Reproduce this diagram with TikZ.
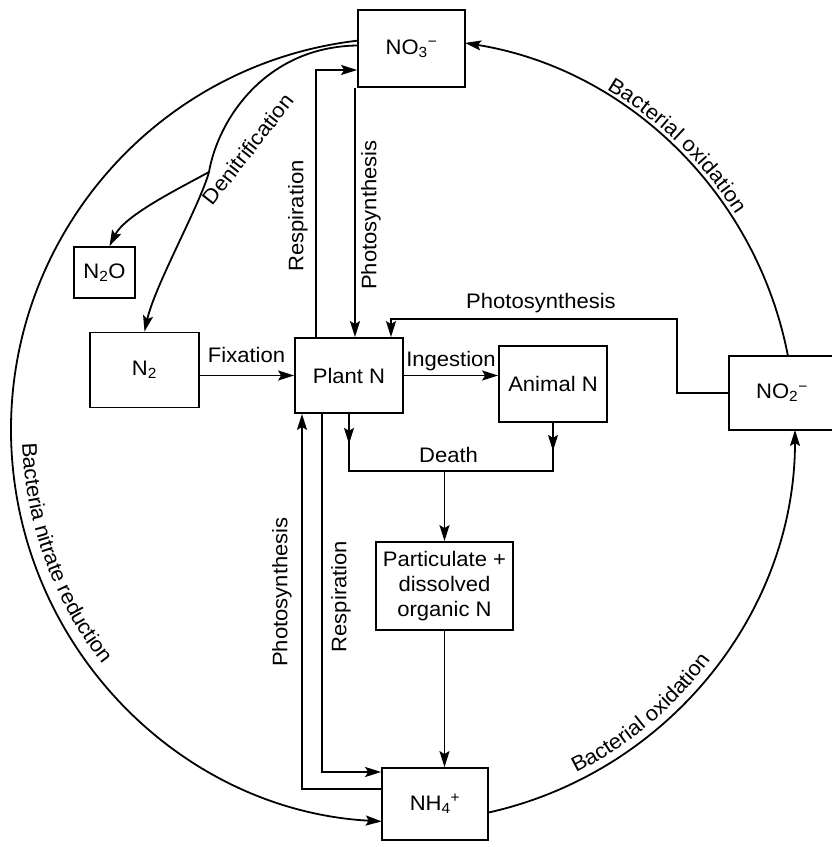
\documentclass[tikz,border=0pt]{standalone}
\usepackage{fontspec}
\setmainfont{Liberation Sans}[FakeStretch=1.05]
\usepackage{tikz}
\usetikzlibrary{arrows.meta, positioning, calc, decorations.text}
\newcommand{\lblfont}{\fontsize{21}{25}\selectfont}
\tikzset{
  lbl/.style={font=\lblfont, inner sep=1pt},
  pool/.style={draw, line width=1.8pt, font=\lblfont, align=center, inner sep=2pt},
  conn/.style={line width=1.8pt},
  flow/.style={conn, -{Stealth[length=16pt, width=10pt, inset=3pt]}},
  arclbl/.style={decorate, decoration={text along path, text align=center, raise=#1}},
}

\begin{document}
\begin{tikzpicture}[x=1pt, y=1pt]
  \useasboundingbox (0,0) rectangle (832,847);
  \def\rad{392pt}
  \coordinate (cyc) at (403,417);

  % nitrogen pools
  \node[pool, minimum width=107pt, minimum height=77pt] (no3) at (411.5,798.5) {NO\textsubscript{3}\textsuperscript{−}};
  \node[pool, minimum width=108pt, minimum height=75pt] (plant) at (349,471.5) {Plant N};
  \node[pool, minimum width=108pt, minimum height=76pt] (animal) at (553,463) {Animal N};
  \node[pool, minimum width=109pt, minimum height=75pt] (n2) at (144.5,477) {N\textsubscript{2}};
  \node[pool, minimum width=61pt, minimum height=51pt] (n2o) at (104.5,574.5) {N\textsubscript{2}O};
  \node[pool, minimum width=106pt, minimum height=74pt] (no2) at (782,454) {NO\textsubscript{2}\textsuperscript{−}};
  \node[pool, minimum width=137pt, minimum height=88pt] (partic) at (444.5,261) {Particulate +\\dissolved\\organic N};
  \node[pool, minimum width=106pt, minimum height=72pt] (nh4) at (435,43) {NH\textsubscript{4}\textsuperscript{+}};

  % outer ring
  \draw[flow] ([shift={(96.6:\rad)}]cyc) arc[start angle=96.6, end angle=266.9, radius=\rad];
  \draw[flow] ([shift={(10.9:\rad)}]cyc) arc[start angle=10.9, end angle=80.9, radius=\rad];
  \draw[flow] ([shift={(-77.5:\rad)}]cyc) arc[start angle=-77.5, end angle=0, radius=\rad];
  \path[arclbl=11pt, decoration={text={|\lblfont|Bacteria nitrate reduction}}] ([shift={(170:\rad)}]cyc) arc[start angle=170, end angle=230, radius=\rad];
  \path[arclbl=5pt, decoration={text={|\lblfont|Bacterial oxidation}}] ([shift={(76:\rad)}]cyc) arc[start angle=76, end angle=16, radius=\rad];
  \path[arclbl=8pt, decoration={text={|\lblfont|Bacterial oxidation}}] ([shift={(-80:\rad)}]cyc) arc[start angle=-80, end angle=-20, radius=\rad];

  % denitrification
  \coordinate (deniBranch) at (209,675);
  \draw[conn] ([yshift=3pt]no3.west) .. controls (265,800) and (218,727) .. (deniBranch);
  \draw[flow] (deniBranch) .. controls (200,642) and (155,562) .. (n2.north);
  \draw[flow] (deniBranch) .. controls (180,659) and (125,632) .. ([xshift=5pt]n2o.north);
  \node[lbl, rotate=52] at (248,698) {Denitrification};

  % plants and nitrate
  \coordinate (respFoot) at ([xshift=-33pt]plant.north);
  \draw[flow] (respFoot) |- ([yshift=-21.5pt]no3.west);
  \coordinate (photoTop) at ([xshift=-56.5pt]no3.south);
  \draw[flow] (photoTop) -- (photoTop |- plant.north);
  \node[lbl, rotate=90] at (298,631) {Respiration};
  \node[lbl, rotate=90] at (371,632) {Photosynthesis};

  % nitrite uptake
  \coordinate (photoBend) at (677,528);
  \draw[flow] (no2.west) -| (photoBend) -| ([xshift=42pt]plant.north);
  \node[lbl] at (541,544) {Photosynthesis};

  \draw[flow] (n2.east |- plant.west) -- (plant.west);
  \node[lbl] at (246.5,492) {Fixation};
  \draw[flow] (plant.east) -- (plant.east -| animal.west);
  \node[lbl] at (451,486) {Ingestion};

  % death
  \coordinate (deathJoin) at (444.5,376);
  \draw[conn] (plant.south) |- (deathJoin) -| (animal.south);
  \draw[flow] (plant.south) -- ++(0,-30);
  \draw[flow] (animal.south) -- ++(0,-28);
  \draw[flow] (deathJoin) -- (partic.north);
  \node[lbl] at (448.5,392) {Death};
  \draw[flow] (partic.south) -- (partic.south |- nh4.north);

  % plants and ammonium
  \coordinate (photoFoot) at ([xshift=-47pt]plant.south);
  \draw[flow] ([yshift=15pt]nh4.west) -| (photoFoot);
  \coordinate (respHead) at ([xshift=-27pt]plant.south);
  \draw[flow] (respHead) |- ([yshift=32pt]nh4.west);
  \node[lbl, rotate=90] at (282,255) {Photosynthesis};
  \node[lbl, rotate=90] at (341,250.5) {Respiration};
\end{tikzpicture}
\end{document}
